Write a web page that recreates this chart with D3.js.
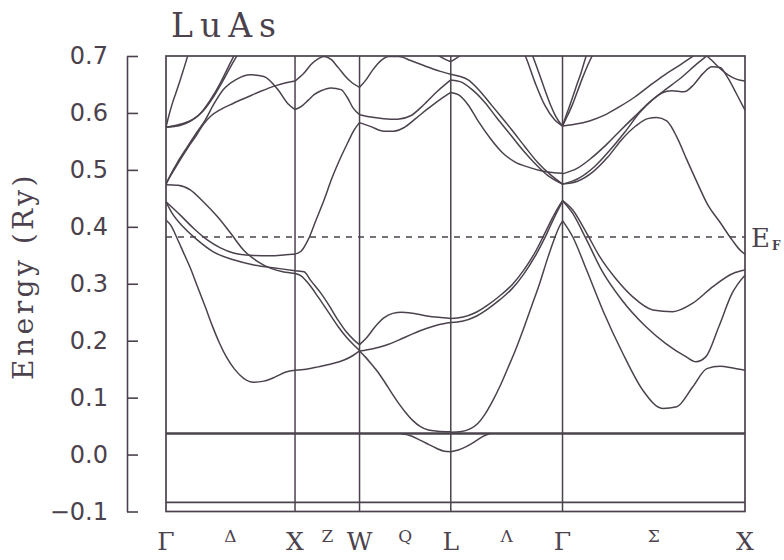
<!DOCTYPE html>
<html>
<head>
<meta charset="utf-8">
<script src="https://cdn.jsdelivr.net/npm/d3@7"></script>
<style>
  body { margin: 0; background: #fff; }
  svg text { fill: #4b424d; }
</style>
</head>
<body>
<svg id="chart" width="784" height="560"></svg>
<script>
// ---- data -------------------------------------------------------------
const compound = "LuAs";
const kPoints = [0, 1, 1.5, 2.2071, 3.0731, 4.4874];   // path length, units of 2π/a
const kNames = ["Γ", "X", "W", "L", "Γ", "X"];
const dirNames = ["Δ", "Z", "Q", "Λ", "Σ"];
const energyTicks = [-0.1, 0.0, 0.1, 0.2, 0.3, 0.4, 0.5, 0.6, 0.7];
const tickLabels = ["−0.1", "0.0", "0.1", "0.2", "0.3", "0.4", "0.5", "0.6", "0.7"];
const fermiEnergy = 0.382;
const flatBands = [0.037, -0.084];   // 4f-like levels running across the whole path

// each band: [t, E] with t the fraction along the segment, E in Ry
const bandsGX = [
  [[0,.412],[.039,.402],[.086,.380],[.133,.356],[.188,.328],[.242,.296],[.305,.259],[.359,.226],[.414,.196],[.469,.171],[.531,.150],[.602,.134],[.680,.127],[.758,.129],[.844,.136],[.930,.145],[1,.148]],
  [[0,.474],[.094,.473],[.188,.465],[.289,.444],[.398,.418],[.5,.389],[.602,.359],[.711,.339],[.813,.327],[.906,.321],[1,.318]],
  [[0,.444],[.109,.421],[.211,.398],[.32,.377],[.422,.363],[.523,.354],[.656,.350],[.813,.349],[.93,.351],[1,.352]],
  [[0,.444],[.047,.424],[.133,.400],[.242,.377],[.367,.356],[.523,.342],[.68,.333],[.867,.327],[1,.323]],
  [[0,.475],[.039,.493],[.086,.512],[.164,.540],[.242,.567],[.305,.588],[.367,.614],[.445,.641],[.539,.658],[.656,.667],[.758,.664],[.867,.641],[.945,.616],[1,.606]],
  [[0,.475],[.039,.491],[.086,.509],[.164,.537],[.242,.563],[.29,.580],[.35,.595],[.422,.606],[.523,.617],[.633,.628],[.734,.638],[.852,.648],[.93,.653],[1,.656]],
  [[0,.575],[.125,.581],[.211,.589],[.289,.604],[.367,.628],[.445,.658],[.523,.690],[.578,.711]],
  [[0,.575],[.109,.578],[.188,.585],[.266,.599],[.344,.623],[.422,.653],[.492,.685],[.539,.706]],
  [[0,.575],[.023,.596],[.047,.615],[.078,.636],[.109,.657],[.141,.680],[.172,.703]]
];

const bandsXW = [
  [[0,.656],[.14,.670],[.248,.685],[.357,.695],[.45,.699],[.558,.694],[.667,.680],[.775,.665],[.884,.653],[1,.645]],
  [[0,.606],[.093,.611],[.202,.622],[.295,.632],[.403,.639],[.558,.644],[.713,.641],[.806,.628],[.899,.609],[1,.597]],
  [[0,.352],[.093,.357],[.202,.377],[.326,.412],[.45,.447],[.574,.486],[.713,.523],[.822,.549],[.915,.570],[1,.583]],
  [[0,.323],[.14,.321],[.248,.305],[.403,.283],[.527,.262],[.667,.236],[.791,.216],[.915,.201],[1,.193]],
  [[0,.318],[.093,.314],[.217,.299],[.357,.277],[.512,.251],[.667,.225],[.791,.207],[.915,.192],[1,.183]],
  [[0,.148],[.171,.150],[.357,.154],[.558,.159],[.76,.166],[.899,.174],[1,.182]]
];

const bandsWL = [
  [[0,.645],[.071,.658],[.147,.676],[.234,.692],[.321,.699],[.429,.699],[.56,.692],[.723,.682],[.886,.673],[1,.668]],
  [[0,.597],[.125,.593],[.266,.590],[.418,.589],[.56,.595],[.701,.614],[.853,.638],[1,.658]],
  [[0,.583],[.125,.576],[.266,.568],[.375,.568],[.484,.574],[.614,.590],[.745,.607],[.886,.624],[1,.636]],
  [[0,.193],[.082,.206],[.168,.224],[.266,.240],[.364,.248],[.462,.250],[.582,.248],[.723,.244],[.864,.241],[1,.239]],
  [[0,.182],[.147,.186],[.288,.192],[.429,.201],[.582,.212],[.723,.221],[.864,.228],[1,.232]],
  [[0,.182],[.06,.172],[.125,.160],[.201,.145],[.277,.127],[.353,.108],[.429,.090],[.505,.074],[.582,.060],[.668,.049],[.755,.043],[.853,.041],[1,.040]],
  [[.451,.037],[.56,.033],[.668,.025],[.755,.018],[.842,.011],[.929,.006],[1,.005]],
  [[.755,.712],[.842,.703],[.929,.695],[1,.690]]
];

const bandsLG = [
  [[0,.668],[.067,.665],[.156,.658],[.244,.642],[.351,.617],[.44,.596],[.547,.570],[.662,.541],[.778,.513],[.889,.492],[1,.475]],
  [[0,.658],[.084,.655],[.191,.641],[.307,.618],[.413,.591],[.529,.563],[.644,.535],[.76,.510],[.876,.489],[1,.475]],
  [[0,.636],[.067,.632],[.156,.614],[.244,.586],[.351,.556],[.458,.531],[.573,.514],[.707,.504],[.84,.497],[1,.494]],
  [[.6,.720],[.662,.702],[.751,.655],[.84,.614],[.929,.588],[1,.577]],
  [[.702,.715],[.729,.702],[.773,.679],[.836,.644],[.893,.614],[.942,.593],[1,.577]],
  [[0,.039],[.084,.040],[.173,.045],[.244,.055],[.307,.071],[.369,.092],[.44,.120],[.511,.152],[.582,.185],[.653,.222],[.724,.261],[.796,.301],[.867,.345],[.929,.380],[.973,.401],[1,.410]],
  [[0,.239],[.102,.241],[.218,.249],[.333,.263],[.44,.279],[.547,.298],[.653,.324],[.751,.354],[.84,.388],[.911,.416],[.964,.435],[1,.446]],
  [[0,.232],[.102,.234],[.218,.242],[.333,.256],[.44,.272],[.547,.291],[.653,.317],[.751,.347],[.84,.380],[.911,.410],[.964,.431],[1,.444]],
  [[0,.005],[.067,.008],[.138,.014],[.209,.022],[.28,.031],[.351,.037]],
  [[0,.690],[.058,.697],[.111,.705],[.173,.714]]
];

const bandsGXsigma = [
  [[0,.577],[.016,.592],[.033,.607],[.055,.627],[.077,.648],[.099,.668],[.132,.702],[.148,.715]],
  [[0,.577],[.027,.595],[.055,.615],[.082,.638],[.11,.662],[.137,.683],[.165,.702],[.187,.716]],
  [[0,.577],[.066,.580],[.148,.586],[.236,.597],[.313,.611],[.396,.628],[.478,.648],[.56,.667],[.643,.684],[.725,.702],[.78,.714]],
  [[0,.493],[.082,.503],[.159,.521],[.236,.543],[.313,.568],[.396,.594],[.478,.619],[.56,.640],[.643,.660],[.725,.683],[.797,.702],[.841,.714]],
  [[0,.475],[.093,.486],[.176,.506],[.258,.534],[.341,.566],[.424,.601],[.489,.622],[.544,.635],[.599,.639],[.665,.637],[.72,.650],[.769,.669],[.819,.681],[.863,.680],[.907,.661],[.951,.635],[1,.605]],
  [[0,.475],[.082,.480],[.165,.496],[.247,.522],[.324,.553],[.401,.577],[.467,.590],[.516,.592],[.571,.586],[.626,.558],[.681,.518],[.736,.479],[.797,.438],[.863,.408],[.929,.377],[.973,.359],[1,.352]],
  [[.742,.712],[.78,.703],[.819,.692],[.863,.678],[.907,.667],[.956,.659],[1,.656]],
  [[0,.446],[.055,.430],[.132,.389],[.203,.348],[.297,.307],[.385,.277],[.495,.254],[.604,.251],[.714,.266],[.824,.295],[.934,.318],[1,.324]],
  [[0,.446],[.055,.424],[.132,.377],[.214,.324],[.324,.272],[.456,.225],[.566,.195],[.676,.172],[.731,.163],[.786,.172],[.857,.225],[.929,.283],[1,.315]],
  [[0,.411],[.055,.383],[.132,.324],[.22,.254],[.33,.178],[.44,.113],[.549,.081],[.626,.084],[.714,.119],[.791,.151],[.863,.155],[.934,.152],[1,.148]]
];

const segments = [bandsGX, bandsXW, bandsWL, bandsLG, bandsGXsigma];

// ---- drawing ------------------------------------------------------------
const ink = "#4b424d";
const svg = d3.select("#chart");
const plot = { left: 166, right: 745, top: 56, bottom: 511.5 };

const x = d3.scaleLinear().domain([0, kPoints[kPoints.length - 1]]).range([plot.left, plot.right]);
const y = d3.scaleLinear().domain([-0.1, 0.7]).range([plot.bottom, plot.top]);

svg.append("rect").attr("width", 784).attr("height", 560).attr("fill", "#fff");

svg.append("defs").append("clipPath").attr("id", "plot-clip")
  .append("rect")
  .attr("x", plot.left).attr("y", plot.top)
  .attr("width", plot.right - plot.left).attr("height", plot.bottom - plot.top);

const line = d3.line().x(d => x(d[0])).y(d => y(d[1])).curve(d3.curveMonotoneX);

const bands = svg.append("g").attr("clip-path", "url(#plot-clip)")
  .attr("fill", "none").attr("stroke", ink).attr("stroke-linejoin", "round");

// flat bands
flatBands.forEach((e, j) => {
  bands.append("path")
    .datum([[kPoints[0], e], [kPoints[kPoints.length - 1], e]])
    .attr("d", line)
    .attr("stroke-width", j === 0 ? 2.6 : 1.6);
});

// dispersive bands, segment by segment
segments.forEach((segBands, i) => {
  const k0 = kPoints[i], k1 = kPoints[i + 1];
  segBands.forEach(b => {
    bands.append("path")
      .datum(b.map(([t, e]) => [k0 + t * (k1 - k0), e]))
      .attr("d", line)
      .attr("stroke-width", 1.5);
  });
});

// Fermi level
svg.append("line")
  .attr("x1", x(kPoints[0])).attr("x2", x(kPoints[kPoints.length - 1]))
  .attr("y1", y(fermiEnergy)).attr("y2", y(fermiEnergy))
  .attr("stroke", ink).attr("stroke-width", 1.4).attr("stroke-dasharray", "6,6");

// high-symmetry verticals
svg.append("g").selectAll("line")
  .data(kPoints.slice(1, -1))
  .join("line")
  .attr("x1", d => x(d)).attr("x2", d => x(d))
  .attr("y1", plot.top).attr("y2", plot.bottom)
  .attr("stroke", ink).attr("stroke-width", 1.5);

// frame
svg.append("rect")
  .attr("x", plot.left).attr("y", plot.top)
  .attr("width", plot.right - plot.left).attr("height", plot.bottom - plot.top)
  .attr("fill", "none").attr("stroke", ink).attr("stroke-width", 1.7);

// energy axis, detached to the left of the frame
const yAxis = svg.append("g")
  .attr("transform", "translate(127,0)")
  .call(d3.axisLeft(y)
    .tickValues(energyTicks)
    .tickSize(-11)
    .tickSizeOuter(0)
    .tickPadding(19)
    .tickFormat((d, i) => tickLabels[i]));
yAxis.select(".domain").attr("stroke", ink).attr("stroke-width", 1.6);
yAxis.selectAll(".tick line").attr("stroke", ink).attr("stroke-width", 1.6);
yAxis.selectAll(".tick text")
  .attr("fill", ink)
  .style("font-family", "'DejaVu Sans', sans-serif")
  .style("font-size", "24px");

// axis title
svg.append("text")
  .attr("transform", "translate(33,276) rotate(-90)")
  .attr("text-anchor", "middle")
  .style("font-family", "'DejaVu Serif', serif")
  .style("font-size", "28px")
  .style("letter-spacing", "3.5px")
  .text("Energy (Ry)");

// compound name
svg.append("text")
  .attr("x", 171).attr("y", 37)
  .style("font-family", "'DejaVu Serif', serif")
  .style("font-size", "33px")
  .style("letter-spacing", "7px")
  .text(compound);

// k-point labels
svg.append("g").selectAll("text")
  .data(kPoints)
  .join("text")
  .attr("x", d => x(d)).attr("y", 550)
  .attr("text-anchor", "middle")
  .style("font-family", "'DejaVu Serif', serif")
  .style("font-size", "25px")
  .text((d, i) => kNames[i]);

// direction labels between the points
svg.append("g").selectAll("text")
  .data(dirNames)
  .join("text")
  .attr("x", (d, i) => x((kPoints[i] + kPoints[i + 1]) / 2)).attr("y", 542)
  .attr("text-anchor", "middle")
  .style("font-family", "'DejaVu Serif', serif")
  .style("font-size", "17px")
  .text(d => d);

// Fermi level label
const ef = svg.append("text")
  .attr("x", plot.right + 6).attr("y", y(fermiEnergy) + 10)
  .style("font-family", "'DejaVu Serif', serif")
  .style("font-size", "26px");
ef.append("tspan").text("E");
ef.append("tspan")
  .attr("dx", 2).attr("dy", 3)
  .style("font-size", "12px").style("font-weight", "bold")
  .text("F");
</script>
</body>
</html>
